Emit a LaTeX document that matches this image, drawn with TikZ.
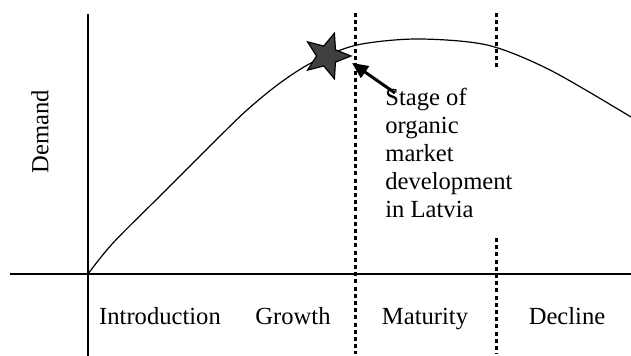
\documentclass[tikz,border=0pt]{standalone}
\usepackage{fontspec}
\setmainfont{Liberation Serif}
\usetikzlibrary{shapes.geometric,arrows.meta}

\tikzstyle{axe}=[line width=1pt]
\tikzstyle{courbe}=[line width=0.6pt]
\tikzstyle{pointille}=[line width=1.5pt, dash pattern=on 2pt off 1.6pt]
\tikzstyle{phase}=[anchor=base, inner sep=0pt]
\tikzstyle{etoile}=[draw, star, star points=5, star point ratio=2.3, fill=black!75, minimum size=24pt, inner sep=0pt, rotate=-18, line width=0.6pt]
\tikzstyle{fleche}=[line width=1.5pt, -{Triangle[length=8pt, width=7pt]}]

\begin{document}
\begin{tikzpicture}[
        x=0.5pt, y=-0.5pt,
        every node/.style={font=\fontsize{12.3}{14}\selectfont}
    ]
    \useasboundingbox (0,0) rectangle (631,356);

    % axes
    \coordinate (O) at (88,274);
    \coordinate (xdeb) at (10,274);
    \coordinate (xfin) at (631,274);
    \coordinate (yhaut) at (88,14);
    \coordinate (ybas) at (88,356);
    \draw[axe] (xdeb) -- (xfin);
    \draw[axe] (yhaut) -- (ybas);

    % limites des phases
    \coordinate (p1h) at (355,13);
    \coordinate (p1b) at (355,354);
    \coordinate (p2h) at (496,13);
    \coordinate (p2m) at (496,70);
    \coordinate (p2n) at (496,238);
    \coordinate (p2b) at (496,354);
    \draw[pointille] (p1h) -- (p1b);
    \draw[pointille] (p2h) -- (p2m);
    \draw[pointille] (p2n) -- (p2b);

    % courbe de demande
    \draw[courbe] plot[smooth, tension=0.5] coordinates {
        (88,274) (113,243) (163,193) (213,143) (247,110) (280,83)
        (313,62) (357,45) (417,39) (487,45) (550,70) (631,117)};

    \node[etoile] (etoile) at (327,56) {};

    \node[anchor=north west, align=left, inner sep=0pt] (etape) at (385,88)
        {Stage of\\organic\\market\\development\\in Latvia};
    \coordinate (queue) at (395,93);
    \coordinate (pointe) at (352,63);
    \draw[fleche] (queue) -- (pointe);

    \node[rotate=90] (demande) at (40,132) {Demand};

    \node[phase] (intro) at (160,325) {Introduction};
    \node[phase] (croissance) at (293,325) {Growth};
    \node[phase] (maturite) at (425,325) {Maturity};
    \node[phase] (declin) at (567,325) {Decline};

\end{tikzpicture}
\end{document}
